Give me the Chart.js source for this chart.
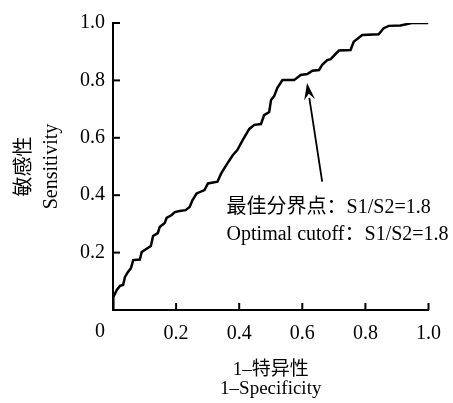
<!DOCTYPE html>
<html>
<head>
<meta charset="utf-8">
<script src="https://cdn.jsdelivr.net/npm/chart.js@4"></script>
<style>
html,body{margin:0;padding:0;background:#fff;}
#wrap{width:453px;height:403px;position:relative;}
</style>
</head>
<body>
<div id="wrap"><canvas id="c" width="453" height="403"></canvas></div>
<script>
// ---- data ----
const fpr = [0, 0.001, 0.012, 0.022, 0.032, 0.038, 0.047, 0.057, 0.064, 0.085, 0.091, 0.120, 0.127, 0.142, 0.148, 0.164, 0.170, 0.186, 0.196, 0.211, 0.230, 0.243, 0.252, 0.265, 0.290, 0.301, 0.331, 0.343, 0.359, 0.380, 0.394, 0.411, 0.432, 0.448, 0.469, 0.479, 0.495, 0.501, 0.511, 0.521, 0.537, 0.574, 0.595, 0.616, 0.632, 0.653, 0.663, 0.679, 0.690, 0.716, 0.753, 0.763, 0.790, 0.842, 0.858, 0.874, 0.911, 0.947, 1.0];
const tpr = [0, 0.045, 0.070, 0.084, 0.087, 0.115, 0.132, 0.146, 0.174, 0.176, 0.202, 0.223, 0.258, 0.268, 0.289, 0.303, 0.321, 0.331, 0.341, 0.345, 0.348, 0.359, 0.383, 0.406, 0.418, 0.441, 0.447, 0.476, 0.505, 0.540, 0.557, 0.592, 0.631, 0.645, 0.648, 0.679, 0.690, 0.732, 0.746, 0.774, 0.801, 0.801, 0.819, 0.822, 0.834, 0.836, 0.854, 0.871, 0.874, 0.904, 0.906, 0.935, 0.958, 0.961, 0.982, 0.990, 0.991, 1.0, 1.0];
const tickValues = [0, 0.2, 0.4, 0.6, 0.8, 1.0];
const xTitle = ['1–特异性', '1–Specificity'];
const yTitle = ['敏感性', 'Sensitivity'];
const noteLines = ['最佳分界点：S1/S2=1.8', 'Optimal cutoff：S1/S2=1.8'];
const notePos = [0.36, 0.355, 0.261];      // x, y of line 1, y of line 2 (data units)
const arrowFrom = [0.663, 0.447];          // arrow tail (data units)
const arrowTo = [0.615, 0.791];            // arrow tip (data units)

const FONT = "'Liberation Serif', 'Times New Roman', 'Noto Sans CJK SC', serif";
const points = fpr.map((x, i) => ({x: x, y: tpr[i]}));

const decor = {
  id: 'decor',
  afterDraw(chart) {
    const ctx = chart.ctx;
    const xs = chart.scales.x, ys = chart.scales.y;
    const x0 = xs.getPixelForValue(0), y0 = ys.getPixelForValue(0);
    ctx.save();
    // inward tick marks
    ctx.strokeStyle = '#000';
    ctx.lineWidth = 2;
    ctx.lineCap = 'butt';
    tickValues.forEach(v => {
      if (v === 0) return;
      const px = xs.getPixelForValue(v);
      ctx.beginPath(); ctx.moveTo(px, y0); ctx.lineTo(px, y0 - 7); ctx.stroke();
      const py = ys.getPixelForValue(v);
      ctx.beginPath(); ctx.moveTo(x0, py); ctx.lineTo(x0 + 7, py); ctx.stroke();
    });
    // shared origin label
    ctx.fillStyle = '#000';
    ctx.font = '20px ' + FONT;
    ctx.textAlign = 'center';
    ctx.textBaseline = 'middle';
    ctx.fillText('0', x0 - 13, y0 + 22);
    // annotation text
    ctx.textAlign = 'left';
    ctx.font = '20px ' + FONT;
    const tx = xs.getPixelForValue(notePos[0]);
    ctx.fillText(noteLines[0], tx, ys.getPixelForValue(notePos[1]));
    ctx.fillText(noteLines[1], tx, ys.getPixelForValue(notePos[2]));
    // arrow
    const ax = xs.getPixelForValue(arrowFrom[0]), ay = ys.getPixelForValue(arrowFrom[1]);
    const bx = xs.getPixelForValue(arrowTo[0]), by = ys.getPixelForValue(arrowTo[1]);
    const ang = Math.atan2(by - ay, bx - ax);
    const hl = 15, hw = 5.5;
    const cx = bx - hl * Math.cos(ang), cy = by - hl * Math.sin(ang);
    ctx.lineWidth = 1.8;
    ctx.beginPath(); ctx.moveTo(ax, ay); ctx.lineTo(cx, cy); ctx.stroke();
    ctx.beginPath();
    ctx.moveTo(bx, by);
    ctx.lineTo(cx + hw * Math.sin(ang) - 2 * Math.cos(ang), cy - hw * Math.cos(ang) - 2 * Math.sin(ang));
    ctx.lineTo(cx + 4 * Math.cos(ang), cy + 4 * Math.sin(ang));
    ctx.lineTo(cx - hw * Math.sin(ang) - 2 * Math.cos(ang), cy + hw * Math.cos(ang) - 2 * Math.sin(ang));
    ctx.closePath();
    ctx.fill();
    ctx.restore();
  }
};

new Chart(document.getElementById('c'), {
  type: 'scatter',
  data: {
    datasets: [{
      data: points,
      showLine: true,
      borderColor: '#000',
      borderWidth: 2.5,
      pointRadius: 0,
      tension: 0,
      fill: false
    }]
  },
  options: {
    responsive: false,
    animation: false,
    events: [],
    layout: {padding: {top: 23, right: 23, left: 0, bottom: 0}},
    plugins: {legend: {display: false}, tooltip: {enabled: false}},
    scales: {
      x: {
        type: 'linear', min: 0, max: 1,
        afterFit(s) { s.height = 93; },
        afterBuildTicks(s) { s.ticks = tickValues.map(v => ({value: v})); },
        grid: {display: false, drawTicks: false},
        border: {display: true, color: '#000', width: 2},
        ticks: {
          padding: 12, color: '#000', maxRotation: 0, autoSkip: false,
          font: {family: FONT, size: 20},
          callback: v => (v === 0 ? '' : v.toFixed(1))
        },
        title: {
          display: true, text: xTitle, color: '#000',
          font: {family: FONT, size: 19, lineHeight: 1.0},
          padding: {top: 0, bottom: 4}
        }
      },
      y: {
        type: 'linear', min: 0, max: 1,
        afterFit(s) { s.width = 113; },
        afterBuildTicks(s) { s.ticks = tickValues.map(v => ({value: v})); },
        grid: {display: false, drawTicks: false},
        border: {display: true, color: '#000', width: 2},
        ticks: {
          padding: 8, color: '#000', autoSkip: false,
          font: {family: FONT, size: 20},
          callback: v => (v === 0 ? '' : v.toFixed(1))
        },
        title: {
          display: true, text: yTitle, color: '#000',
          font: {family: FONT, size: 20, lineHeight: 1.35},
          padding: {top: 11, bottom: 0}
        }
      }
    }
  },
  plugins: [decor]
});
</script>
</body>
</html>
